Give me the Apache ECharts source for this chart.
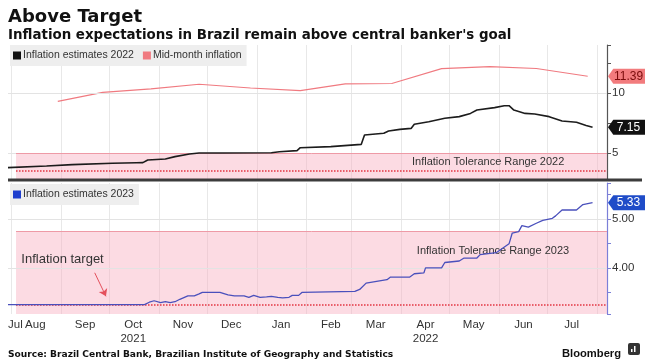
<!DOCTYPE html>
<html><head><meta charset="utf-8">
<script src="https://cdn.jsdelivr.net/npm/echarts@6/dist/echarts.min.js"></script>
<style>html,body{margin:0;padding:0;background:#fff}#c{width:655px;height:363px}</style>
</head><body><div id="c"></div>
<script>
// ---------- data ----------
const axisStart = '2021-07-30';
const axisEnd = '2022-08-07';
const monthNames = ['Jan','Feb','Mar','Apr','May','Jun','Jul','Aug','Sep','Oct','Nov','Dec'];
const yearLabels = {'2021-10': '2021', '2022-04': '2022'};

const est2022Dates = ['2021-07-30','2021-08-23','2021-09-08','2021-10-03','2021-10-18','2021-10-22','2021-10-25','2021-11-05','2021-11-11','2021-11-20','2021-11-26','2021-12-10','2022-01-10','2022-01-15','2022-01-26','2022-01-28','2022-02-16','2022-03-07','2022-03-09','2022-03-21','2022-03-24','2022-03-31','2022-04-07','2022-04-09','2022-04-18','2022-04-28','2022-05-07','2022-05-14','2022-05-18','2022-05-29','2022-06-04','2022-06-07','2022-06-10','2022-06-17','2022-06-23','2022-07-02','2022-07-10','2022-07-19','2022-07-25','2022-07-29'];
const est2022Values = [3.78,3.92,4.03,4.14,4.19,4.20,4.42,4.50,4.70,4.92,5.00,5.00,5.02,5.10,5.20,5.44,5.53,5.72,6.50,6.64,6.83,6.97,7.05,7.40,7.60,7.89,8.03,8.30,8.58,8.78,8.94,8.94,8.58,8.30,8.25,8.03,7.67,7.56,7.30,7.15];

const midMonthDates = ['2021-08-30','2021-09-27','2021-10-27','2021-11-26','2021-12-28','2022-01-28','2022-02-25','2022-03-26','2022-04-26','2022-05-26','2022-06-24','2022-07-26'];
const midMonthValues = [9.30,10.05,10.34,10.73,10.42,10.20,10.76,10.79,12.03,12.20,12.04,11.39];

const est2023Dates = ['2021-07-30','2021-10-23','2021-10-26','2021-10-29','2021-11-02','2021-11-05','2021-11-08','2021-11-11','2021-11-14','2021-11-19','2021-11-23','2021-11-26','2021-11-28','2021-12-09','2021-12-14','2021-12-18','2021-12-24','2021-12-27','2021-12-30','2022-01-03','2022-01-07','2022-01-10','2022-01-14','2022-01-17','2022-01-21','2022-01-23','2022-01-27','2022-01-29','2022-03-03','2022-03-06','2022-03-10','2022-03-11','2022-03-23','2022-03-25','2022-04-06','2022-04-09','2022-04-15','2022-04-16','2022-04-26','2022-04-28','2022-05-07','2022-05-10','2022-05-18','2022-05-20','2022-05-30','2022-06-03','2022-06-07','2022-06-09','2022-06-13','2022-06-15','2022-06-19','2022-06-24','2022-06-28','2022-07-04','2022-07-06','2022-07-10','2022-07-19','2022-07-23','2022-07-29'];
const est2023Values = [3.25,3.25,3.30,3.33,3.29,3.31,3.29,3.31,3.36,3.43,3.43,3.47,3.50,3.50,3.45,3.43,3.43,3.40,3.44,3.40,3.41,3.42,3.40,3.39,3.40,3.44,3.44,3.50,3.52,3.56,3.69,3.72,3.76,3.81,3.81,3.88,3.90,4.00,4.00,4.11,4.14,4.20,4.20,4.27,4.31,4.40,4.49,4.71,4.74,4.86,4.83,4.91,4.97,5.01,5.06,5.18,5.18,5.29,5.33];

const bandStart = '2021-08-04';
const band2022 = [2.0, 5.0];   // tolerance range 2022
const target2022 = 3.5;
const band2023 = [1.75, 4.75]; // tolerance range 2023
const target2023 = 3.25;

const topAxis = {min: 2.75, max: 14, step: 2.5, labelEvery: 5, decimals: 0, grid: [5, 10]};
const botAxis = {min: 3.06, max: 5.73, step: 0.5, labelEvery: 1, decimals: 2, grid: [4, 5]};

const annTop = [{date: '2022-05-25', value: 4.22, text: 'Inflation Tolerance Range 2022'}];
const annBot = [{date: '2022-05-28', value: 4.35, text: 'Inflation Tolerance Range 2023'}];
const targetNote = {date: '2021-08-07', value: 4.18, text: 'Inflation target'};
const targetArrow = [['2021-09-22', 3.90], ['2021-09-29', 3.42]];

// ---------- helpers ----------
function dayList(a, b) {
  const out = [];
  let t = Date.parse(a + 'T00:00:00Z');
  const e = Date.parse(b + 'T00:00:00Z');
  while (t <= e) { out.push(new Date(t).toISOString().slice(0, 10)); t += 86400000; }
  return out;
}
const days = dayList(axisStart, axisEnd);
const zip = (d, v) => d.map((x, i) => [x, v[i]]);
const last = a => a[a.length - 1];

const NARROW = "'Liberation Sans Narrow','Liberation Sans',Arial,sans-serif";
const HEAD = "'DejaVu Sans',sans-serif";
const tagPath = 'path://M0,7L6,0L42,0L42,14L6,14Z';

function tag(value, bg, fg) {
  return {
    coord: [axisEnd, value], value: value,
    symbol: tagPath, symbolSize: [37, 15], symbolOffset: [19.5, 0], symbolKeepAspect: false,
    itemStyle: {color: bg},
    label: {show: true, position: 'inside', offset: [2, 0], color: fg, fontSize: 12, fontFamily: NARROW,
      formatter: p => p.value.toFixed(2)}
  };
}
function note(a, align) {
  return {
    coord: [a.date, a.value], value: 0, symbol: 'circle', symbolSize: 1,
    itemStyle: {color: 'rgba(0,0,0,0)'},
    label: {show: true, position: align === 'left' ? 'right' : 'inside', distance: 0,
      color: '#333', fontSize: align === 'left' ? 13 : 11, fontFamily: NARROW, formatter: () => a.text}
  };
}
function gridLines(vals) {
  return vals.map(v => [{coord: [axisStart, v], lineStyle: {color: '#e3e3e3', width: 1, type: 'solid'}}, {coord: [axisEnd, v]}]);
}
function hline(v, color, type, width) {
  return [{coord: [bandStart, v], lineStyle: {color: color, type: type, width: width}}, {coord: [axisEnd, v]}];
}

const xCommon = {
  type: 'category', data: days, boundaryGap: false,
  axisLine: {show: false}, axisTick: {show: false},
  splitLine: {show: true, interval: (i, v) => v.slice(8) === '01', lineStyle: {color: '#e8e8e8', width: 1}}
};
function yCommon(ax, gi, lineColor) {
  return {
    type: 'value', gridIndex: gi, position: 'right', min: ax.min, max: ax.max,
    minInterval: ax.step, maxInterval: ax.step, splitNumber: 5,
    axisLine: {show: true, lineStyle: {color: lineColor, width: 1.2}},
    axisTick: {show: true, length: 4, lineStyle: {color: lineColor}},
    splitLine: {show: false},
    axisLabel: {color: '#333', fontSize: 11.5, fontFamily: NARROW, margin: 5,
      formatter: v => {
        const r = v / ax.labelEvery;
        if (Math.abs(r - Math.round(r)) > 1e-6 || v <= ax.min + 1e-6 || v >= ax.max - 1e-6) return '';
        return v.toFixed(ax.decimals);
      }}
  };
}

const option = {
  animation: false,
  backgroundColor: '#fff',
  title: [
    {text: 'Above Target', left: 3, top: 3, textStyle: {fontSize: 18, fontWeight: 'bold', color: '#111', fontFamily: HEAD}},
    {text: "Inflation expectations in Brazil remain above central banker's goal", left: 3, top: 24,
      textStyle: {fontSize: 13.4, fontWeight: 'bold', color: '#111', fontFamily: HEAD}},
    {text: 'Source: Brazil Central Bank, Brazilian Institute of Geography and Statistics', left: 3, top: 345,
      textStyle: {fontSize: 9.1, fontWeight: 'bold', color: '#111', fontFamily: HEAD}},
    {text: 'Bloomberg', left: 557, top: 343, textStyle: {fontSize: 11.2, fontWeight: 'bold', color: '#111', fontFamily: "'Liberation Sans',sans-serif"}}
  ],
  legend: [
    {data: ['Inflation estimates 2022', 'Mid-month inflation'], left: 10, top: 45, icon: 'rect',
      itemWidth: 8, itemHeight: 8, itemGap: 9, selectedMode: false, backgroundColor: '#eeeeee',
      padding: [5, 5, 5, 3], textStyle: {fontSize: 10.5, color: '#333', fontFamily: NARROW, padding: [0, 0, 0, -3]}},
    {data: ['Inflation estimates 2023'], left: 10, top: 184, icon: 'rect',
      itemWidth: 8, itemHeight: 8, selectedMode: false, backgroundColor: '#eeeeee',
      padding: [5, 5, 5, 3], textStyle: {fontSize: 10.5, color: '#333', fontFamily: NARROW, padding: [0, 0, 0, -3]}}
  ],
  grid: [
    {left: 8, right: 48, top: 45, height: 135},
    {left: 8, right: 48, top: 183, height: 131}
  ],
  xAxis: [
    Object.assign({}, xCommon, {gridIndex: 0, axisLabel: {show: false}}),
    Object.assign({}, xCommon, {gridIndex: 1, axisLabel: {
      show: true, color: '#333', fontSize: 11.5, fontFamily: NARROW, margin: 4, lineHeight: 14,
      alignMinLabel: 'left',
      interval: (i, v) => i === 0 || v.slice(8) === '16',
      formatter: (v, i) => {
        const name = monthNames[+v.slice(5, 7) - 1];
        if (i === 0) return name;
        const yr = yearLabels[v.slice(0, 7)];
        return yr ? name + '\n' + yr : name;
      }}})
  ],
  yAxis: [yCommon(topAxis, 0, '#555'), yCommon(botAxis, 1, '#7b7fd8')],
  graphic: [
    {type: 'line', shape: {x1: 8, y1: 180, x2: 642, y2: 180}, style: {stroke: '#3c3c3c', lineWidth: 3}, z: 100},
    {type: 'rect', shape: {x: 628, y: 343, width: 12, height: 12, r: 2}, style: {fill: '#333'}, z: 100},
    {type: 'rect', shape: {x: 631, y: 349, width: 1.5, height: 3}, style: {fill: '#fff'}, z: 101},
    {type: 'rect', shape: {x: 634, y: 346, width: 1.5, height: 6}, style: {fill: '#fff'}, z: 101}
  ],
  series: [
    {
      name: 'Inflation estimates 2022', type: 'line', xAxisIndex: 0, yAxisIndex: 0,
      data: zip(est2022Dates, est2022Values), symbol: 'none', z: 5,
      lineStyle: {color: '#1c1c1c', width: 1.6}, itemStyle: {color: '#111'},
      markArea: {silent: true, itemStyle: {color: 'rgba(248,170,188,0.42)'},
        data: [[{coord: [bandStart, band2022[0]]}, {coord: [axisEnd, band2022[1]]}]]},
      markLine: {silent: true, symbol: ['none', 'none'], label: {show: false},
        data: gridLines(topAxis.grid).concat([
          hline(band2022[1], '#ee9aa6', 'solid', 1),
          hline(target2022, '#e2323e', 'dotted', 1.5)
        ])},
      markPoint: {silent: true, data: [tag(last(est2022Values), '#111', '#fff')].concat(annTop.map(a => note(a)))}
    },
    {
      name: 'Mid-month inflation', type: 'line', xAxisIndex: 0, yAxisIndex: 0,
      data: zip(midMonthDates, midMonthValues), symbol: 'none', z: 4,
      lineStyle: {color: '#f07a80', width: 1.1}, itemStyle: {color: '#f07a80'},
      markPoint: {silent: true, data: [tag(last(midMonthValues), '#f27b7d', '#7a0b0b')]}
    },
    {
      name: 'Inflation estimates 2023', type: 'line', xAxisIndex: 1, yAxisIndex: 1,
      data: zip(est2023Dates, est2023Values), symbol: 'none', z: 5,
      lineStyle: {color: '#4a50bc', width: 1.3}, itemStyle: {color: '#1f3fce'},
      markArea: {silent: true, itemStyle: {color: 'rgba(248,170,188,0.42)'},
        data: [[{coord: [bandStart, band2023[0]]}, {coord: [axisEnd, band2023[1]]}]]},
      markLine: {silent: true, symbol: ['none', 'none'], label: {show: false},
        data: gridLines(botAxis.grid).concat([
          hline(band2023[1], '#ee9aa6', 'solid', 1),
          hline(target2023, '#e2323e', 'dotted', 1.5),
          [{coord: targetArrow[0], symbol: 'none', lineStyle: {color: '#e4505c', width: 1, type: 'solid'}},
           {coord: targetArrow[1], symbol: 'arrow', symbolSize: 7}]
        ])},
      markPoint: {silent: true, data: [tag(last(est2023Values), '#1f4cc8', '#fff'), note(targetNote, 'left')].concat(annBot.map(a => note(a)))}
    }
  ]
};

const chart = echarts.init(document.getElementById('c'), null, {renderer: 'canvas'});
chart.setOption(option);
</script>
</body></html>
